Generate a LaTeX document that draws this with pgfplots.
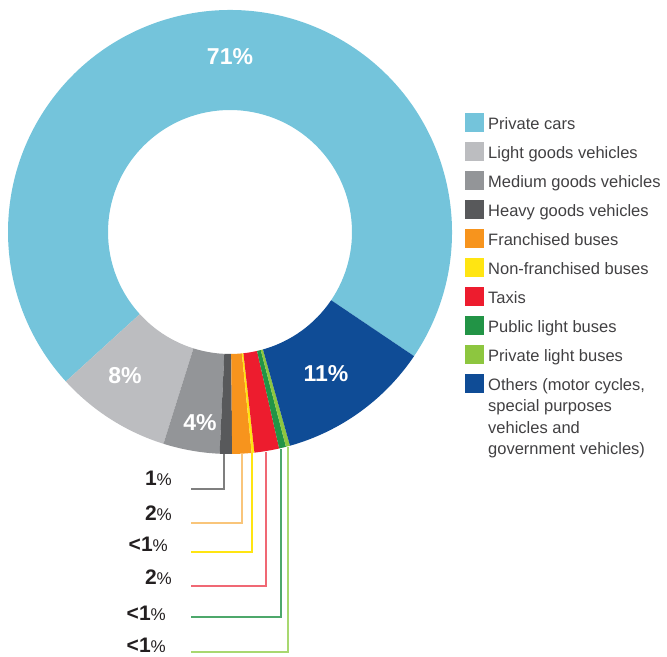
\documentclass[border=0pt]{standalone}
\usepackage{pgfplots}
\pgfplotsset{compat=1.18}
\usepackage{pgfplotstable}
\usepackage{fontspec}
\setmainfont{Liberation Sans}

\definecolor{c0}{HTML}{74C4DB}
\definecolor{c1}{HTML}{BCBDC0}
\definecolor{c2}{HTML}{939598}
\definecolor{c3}{HTML}{58595B}
\definecolor{c4}{HTML}{F7941D}
\definecolor{c5}{HTML}{FFE512}
\definecolor{c6}{HTML}{ED1C2E}
\definecolor{c7}{HTML}{229446}
\definecolor{c8}{HTML}{8DC63F}
\definecolor{c9}{HTML}{0F4C96}
\definecolor{leadgray}{HTML}{7F7F7F}
\definecolor{leadorange}{HTML}{F9C57A}
\definecolor{leadyellow}{HTML}{FFE512}
\definecolor{leadred}{HTML}{F06874}
\definecolor{leadgreen}{HTML}{4DA86B}
\definecolor{leadlime}{HTML}{A8D870}
\definecolor{txt}{HTML}{414042}
\definecolor{lab}{HTML}{231F20}

% share of licensed vehicles, %
\pgfplotstableread[col sep=comma]{
name,value
Private cars,71.2
Light goods vehicles,8.4
Medium goods vehicles,4.1
Heavy goods vehicles,0.9
Franchised buses,1.4
Non-franchised buses,0.2
Taxis,1.8
Public light buses,0.5
Private light buses,0.3
Others,11.2
}\shares

\begin{document}%
% slice angles, anticlockwise from -34 deg
\xdef\acc{-34}%
\foreach \i in {0,...,9}{%
  \pgfplotstablegetelem{\i}{value}\of\shares
  \pgfmathsetmacro\e{\acc+3.6*\pgfplotsretval}%
  \expandafter\xdef\csname sa\i\endcsname{\acc}%
  \expandafter\xdef\csname ea\i\endcsname{\e}%
  \xdef\acc{\e}%
}%
\begin{tikzpicture}
\begin{axis}[
  width=667bp, height=657bp, scale only axis,
  xmin=0, xmax=667, ymin=0, ymax=657,
  hide axis, clip=false,
]
\coordinate (bl) at (axis cs:0,0);
\coordinate (tr) at (axis cs:667,657);
% ring
\pgfplotsinvokeforeach{0,...,9}{
  \edef\tmp{\noexpand\fill[c#1, shift={(axis cs:230,425)}]
    (\csname sa#1\endcsname:222bp) arc[start angle=\csname sa#1\endcsname, end angle=\csname ea#1\endcsname, radius=222bp]
    -- (\csname ea#1\endcsname:122bp) arc[start angle=\csname ea#1\endcsname, end angle=\csname sa#1\endcsname, radius=122bp] -- cycle;}
  \tmp
}
\node[white, font=\fontsize{23bp}{23bp}\selectfont\bfseries] at (axis cs:230,600) {71\%};
\node[white, font=\fontsize{23bp}{23bp}\selectfont\bfseries] at (axis cs:125,281) {8\%};
\node[white, font=\fontsize{23bp}{23bp}\selectfont\bfseries] at (axis cs:200,234) {4\%};
\node[white, font=\fontsize{23bp}{23bp}\selectfont\bfseries] at (axis cs:326,283) {11\%};

% leader lines for the small slices
\addplot[color=leadgray, line width=1.2bp] coordinates {(224,203) (224,168) (191,168)};
\addplot[color=leadorange, line width=1.2bp] coordinates {(242,203) (242,134) (191,134)};
\addplot[color=leadyellow, line width=1.2bp] coordinates {(252,204) (252,105) (191,105)};
\addplot[color=leadred, line width=1.2bp] coordinates {(266,205) (266,71) (191,71)};
\addplot[color=leadgreen, line width=1.2bp] coordinates {(281,208) (281,40) (191,40)};
\addplot[color=leadlime, line width=1.2bp] coordinates {(288,210) (288,5) (191,5)};

\tikzset{lbl/.style={lab, anchor=base east, inner sep=0pt}}
\newcommand\pct[1]{{\fontsize{21bp}{21bp}\selectfont\bfseries #1}{\fontsize{17bp}{17bp}\selectfont\%}}
\node[lbl] at (axis cs:172,171) {\pct{1}};
\node[lbl] at (axis cs:172,136.3) {\pct{2}};
\node[lbl] at (axis cs:168,105.3) {\pct{<1}};
\node[lbl] at (axis cs:172,72) {\pct{2}};
\node[lbl] at (axis cs:166,36.3) {\pct{<1}};
\node[lbl] at (axis cs:166,4.5) {\pct{<1}};

% legend
\pgfplotsinvokeforeach{0,...,9}{
  \fill[c#1] (axis cs:465,{543.5-28.9*#1}) rectangle (axis cs:484,{524.5-28.9*#1});
}
\tikzset{leg/.style={txt, anchor=base west, inner sep=0pt, align=left,
  font=\fontsize{16.5bp}{21.5bp}\selectfont}}
\node[leg] at (axis cs:488,{527-28.9*0}) {Private cars};
\node[leg] at (axis cs:488,{527-28.9*1}) {Light goods vehicles};
\node[leg] at (axis cs:488,{527-28.9*2}) {Medium goods vehicles};
\node[leg] at (axis cs:488,{527-28.9*3}) {Heavy goods vehicles};
\node[leg] at (axis cs:488,{527-28.9*4}) {Franchised buses};
\node[leg] at (axis cs:488,{527-28.9*5}) {Non-franchised buses};
\node[leg] at (axis cs:488,{527-28.9*6}) {Taxis};
\node[leg] at (axis cs:488,{527-28.9*7}) {Public light buses};
\node[leg] at (axis cs:488,{527-28.9*8}) {Private light buses};
% base anchor of a multi-line node sits on its last line
\node[leg] at (axis cs:488,{527-28.9*9-64.5}) {Others (motor cycles,\\special purposes\\vehicles and\\government vehicles)};
\end{axis}
\pgfresetboundingbox
\path[use as bounding box] (bl) rectangle (tr);
\end{tikzpicture}
\end{document}
